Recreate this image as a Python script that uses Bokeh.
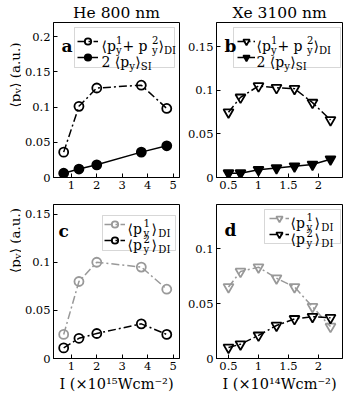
import math
from bokeh.plotting import figure
from bokeh.models import Range1d, FixedTicker, Label, Legend, LegendItem, BoxAnnotation
from bokeh.layouts import column, row
from bokeh.embed import file_html
from bokeh.resources import INLINE

# ---------------- data ----------------
he_x = [0.7, 1.3, 2.0, 3.75, 4.75]
he_di_sum = [0.036, 0.101, 0.127, 0.131, 0.098]
he_si2 = [0.006, 0.012, 0.018, 0.036, 0.045]
he_p1 = [0.025, 0.080, 0.100, 0.095, 0.072]
he_p2 = [0.011, 0.021, 0.026, 0.036, 0.025]

xe_x = [0.5, 0.7, 1.0, 1.3, 1.6, 1.9, 2.2]
xe_di_sum = [0.075, 0.092, 0.105, 0.103, 0.102, 0.086, 0.066]
xe_si2 = [0.005, 0.005, 0.009, 0.011, 0.013, 0.015, 0.021]
xe_p1 = [0.065, 0.079, 0.083, 0.073, 0.065, 0.047, 0.029]
xe_p2 = [0.010, 0.013, 0.021, 0.030, 0.036, 0.038, 0.037]

he_xticks = [1, 2, 3, 4, 5]
he_xtick_labels = ["1", "2", "3", "4", "5"]
xe_xticks = [0.5, 1, 1.5, 2]
xe_xtick_labels = ["0.5", "1", "1.5", "2"]
a_yticks = [0, 0.05, 0.1, 0.15, 0.2]
a_ytick_labels = ["0", "0.05", "0.1", "0.15", "0.2"]
b_yticks = [0, 0.05, 0.1, 0.15]
b_ytick_labels = ["0", "0.05", "0.1", "0.15"]
c_yticks = [0, 0.05, 0.1, 0.15]
c_ytick_labels = ["0", "0.05", "0.1", "0.15"]
d_yticks = [0, 0.05, 0.1]
d_ytick_labels = ["0", "0.05", "0.1"]

titles = ["He 800 nm", "Xe 3100 nm"]
letters = ["a", "b", "c", "d"]
xlabel_he = "I (\u00d710\u00b9\u2075Wcm\u207b\u00b2)"
xlabel_xe = "I (\u00d710\u00b9\u2074Wcm\u207b\u00b2)"

SERIF = "DejaVu Serif"
GRAY = "#999999"
DASHDOT = "8 3 2 3"

CW = {'⟨': 0.39, '⟩': 0.39, 'p': 0.644, 'y': 0.592, '1': 0.636, '2': 0.636, '+': 0.838,
      ' ': 0.318, 'D': 0.83, 'I': 0.47, 'S': 0.685, '(': 0.39, ')': 0.39, 'a': 0.596,
      'u': 0.644, '.': 0.318}
SMALL = 0.72


def tw(s, size):
    return sum(CW.get(c, 0.6) for c in s) * size


def put(p, x, y, text, size, angle=0.0, bold=False):
    p.add_layout(Label(x=x, y=y, x_units="screen", y_units="screen", text=text, angle=angle,
                       text_font=SERIF, text_font_size=f"{size:.1f}px", text_color="black",
                       text_font_style="bold" if bold else "normal",
                       text_align="left", text_baseline="alphabetic"))


def math_width(pieces, size, gap=0.0):
    small = size * SMALL
    w = 0.0
    for kind, t in pieces:
        if kind == "n":
            w += tw(t, size)
        elif kind in ("sub", "sup"):
            w += tw(t, small)
        else:
            w += max(tw(t[0], small), tw(t[1], small))
        w += gap
    return w


def math_text(p, x, y, pieces, size, angle=0.0, gap=0.0, sub=0.28):
    small = size * SMALL
    pos = 0.0
    ca, sa = math.cos(angle), math.sin(angle)

    def at(t, sz, dy):
        put(p, x + pos * ca - dy * sa, y + pos * sa + dy * ca, t, sz, angle)

    for kind, t in pieces:
        if kind == "n":
            at(t, size, 0); pos += tw(t, size)
        elif kind == "sub":
            at(t, small, -sub * size); pos += tw(t, small)
        elif kind == "sup":
            at(t, small, 0.42 * size); pos += tw(t, small)
        else:
            at(t[0], small, 0.42 * size); at(t[1], small, -0.3 * size)
            pos += max(tw(t[0], small), tw(t[1], small))
        pos += gap


def make_panel(fw, fh, bl, br, bt, bb, xr, yr, xt, xtl, yt, ytl, title=None):
    p = figure(frame_width=fw, frame_height=fh, x_range=Range1d(*xr), y_range=Range1d(*yr),
               output_backend="svg", toolbar_location=None, title=title,
               min_border_left=bl, min_border_right=br, min_border_top=bt, min_border_bottom=bb)
    p.grid.visible = False
    p.outline_line_color = "black"
    p.outline_line_width = 1
    p.background_fill_color = "white"
    p.border_fill_color = "white"
    if title is not None:
        p.title.text_font = SERIF
        p.title.text_font_size = "15.5px"
        p.title.text_font_style = "normal"
        p.title.text_color = "black"
        p.title.align = "center"
        p.title.standoff = 2
        p.title.offset = 0
    for ax, ticks, labels in ((p.xaxis[0], xt, xtl), (p.yaxis[0], yt, ytl)):
        ax.ticker = FixedTicker(ticks=ticks, minor_ticks=[])
        ax.major_label_overrides = {t: l for t, l in zip(ticks, labels)}
        ax.major_tick_in = 4
        ax.major_tick_out = 0
        ax.minor_tick_in = 0
        ax.minor_tick_out = 0
        ax.major_label_text_font = SERIF
        ax.major_label_text_font_size = "11.5px"
        ax.major_label_text_color = "black"
        ax.major_label_standoff = 3
        ax.axis_line_color = "black"
        ax.major_tick_line_color = "black"
    p._fw, p._fh = fw, fh
    return p


def label_strip(w, h, yc, size, base):
    s = figure(width=w, height=h, output_backend="svg", toolbar_location=None,
               x_axis_location=None, y_axis_location=None, min_border=0,
               min_border_left=0, min_border_right=0, min_border_top=0, min_border_bottom=0)
    s.outline_line_color = None
    s.grid.visible = False
    s.background_fill_color = "white"
    s.border_fill_color = "white"
    wl = math_width(YLABEL, size)
    math_text(s, base, yc - wl / 2, YLABEL, size, angle=math.pi / 2, sub=0.2)
    return s


def style_xlabel(p, text):
    ax = p.below[0]
    ax.axis_label = text
    ax.axis_label_text_font = SERIF
    ax.axis_label_text_font_size = "14.5px"
    ax.axis_label_text_font_style = "normal"
    ax.axis_label_text_color = "black"
    ax.axis_label_standoff = 3


def series(p, x, y, color, dash, marker, size, filled):
    r1 = p.line(x, y, line_color=color, line_width=1.5, line_dash=dash)
    r2 = p.scatter(x, y, marker=marker, size=size, line_color=color, line_width=1.8,
                   fill_color=color if filled else None)
    return [r1, r2]


def legend(p, items, box, gx, gw, ih, top_off, entries, text_x, size, gap=0.0):
    L, R, T, B = box
    xr, yr = p.x_range, p.y_range
    fx = lambda v: xr.start + v / p._fw * (xr.end - xr.start)
    fy = lambda v: yr.start + v / p._fh * (yr.end - yr.start)
    p.add_layout(BoxAnnotation(left=fx(L), right=fx(R), top=fy(T), bottom=fy(B),
                               fill_color="white", fill_alpha=1.0, line_color="#7a7a7a",
                               line_width=1, level="underlay"))
    leg = Legend(items=[LegendItem(label=" ", renderers=rs) for rs in items],
                 location=(L + gx, T - top_off - 2 * ih), orientation="vertical",
                 glyph_width=gw, glyph_height=ih, label_width=1, label_height=ih,
                 label_standoff=0, padding=0, spacing=0, margin=0, border_line_color=None,
                 background_fill_alpha=0.0, label_text_font_size="5px")
    p.add_layout(leg)
    for i, pieces in enumerate(entries):
        yc = T - top_off - (i + 0.5) * ih
        math_text(p, L + text_x, yc - 0.33 * size, pieces, size, gap=gap)


ENTRY_SUM = [("n", "⟨p"), ("ss", ("1", "y")), ("n", " + p"), ("ss", ("2", "y")), ("n", "⟩"), ("sub", "DI")]
ENTRY_SI = [("n", "2 ⟨p"), ("sub", "y"), ("n", "⟩"), ("sub", "SI")]
ENTRY_P1 = [("n", "⟨p"), ("ss", ("1", "y")), ("n", "⟩"), ("sub", "DI")]
ENTRY_P2 = [("n", "⟨p"), ("ss", ("2", "y")), ("n", "⟩"), ("sub", "DI")]
YLABEL = [("n", "⟨p"), ("sub", "y"), ("n", "⟩ (a.u.)")]

FH1, FH2 = 155, 154
TOP1, BOT1, TOP2, BOT2 = 21, 24, 3, 41
STRIP = 21

# ---------------- panel a ----------------
pa = make_panel(126, FH1, 29, 5, TOP1, BOT1, (0.3, 5.25), (0, 0.22), he_xticks, he_xtick_labels,
                a_yticks, a_ytick_labels, title=titles[0])
ra1 = series(pa, he_x, he_di_sum, "black", DASHDOT, "circle", 9, False)
ra2 = series(pa, he_x, he_si2, "black", "solid", "circle", 9, True)
legend(pa, [ra1, ra2], (21, 121, FH1 - 5, FH1 - 45), 3, 21, 16, 6,
       [ENTRY_SUM, ENTRY_SI], 27, 14)
put(pa, 8, FH1 - 23, letters[0], 17, bold=True)

# ---------------- panel b ----------------
pb = make_panel(126, FH1, 29, 3, TOP1, BOT1, (0.3, 2.4), (0, 0.178), xe_xticks, xe_xtick_labels,
                b_yticks, b_ytick_labels, title=titles[1])
rb1 = series(pb, xe_x, xe_di_sum, "black", DASHDOT, "inverted_triangle", 10, False)
rb2 = series(pb, xe_x, xe_si2, "black", "solid", "inverted_triangle", 10, True)
legend(pb, [rb1, rb2], (17, 124, FH1 - 5, FH1 - 45), 4, 18, 16, 6,
       [ENTRY_SUM, ENTRY_SI], 23, 14)
put(pb, 8, FH1 - 23, letters[1], 17, bold=True)

# ---------------- panel c ----------------
pc = make_panel(126, FH2, 29, 5, TOP2, BOT2, (0.3, 5.25), (0, 0.16), he_xticks, he_xtick_labels,
                c_yticks, c_ytick_labels)
rc1 = series(pc, he_x, he_p1, GRAY, DASHDOT, "circle", 9, False)
rc2 = series(pc, he_x, he_p2, "black", DASHDOT, "circle", 9, False)
legend(pc, [rc1, rc2], (49, 122, FH2 - 11, FH2 - 46), 2, 21, 16, 1,
       [ENTRY_P1, ENTRY_P2], 25, 14, gap=1.5)
put(pc, 5, FH2 - 26, letters[2], 17, bold=True)
style_xlabel(pc, xlabel_he)

# ---------------- panel d ----------------
pd_ = make_panel(126, FH2, 29, 3, TOP2, BOT2, (0.3, 2.4), (0, 0.14), xe_xticks, xe_xtick_labels,
                 d_yticks, d_ytick_labels)
rd1 = series(pd_, xe_x, xe_p1, GRAY, DASHDOT, "inverted_triangle", 10, False)
rd2 = series(pd_, xe_x, xe_p2, "black", DASHDOT, "inverted_triangle", 10, False)
legend(pd_, [rd1, rd2], (48, 124, FH2 - 5, FH2 - 39), 5, 20, 16, 1,
       [ENTRY_P1, ENTRY_P2], 26, 14, gap=1.5)
put(pd_, 8, FH2 - 25, letters[3], 17, bold=True)
style_xlabel(pd_, xlabel_xe)

H1 = TOP1 + FH1 + BOT1
H2 = TOP2 + FH2 + BOT2
yl_a = label_strip(STRIP, H1, H1 - (TOP1 + FH1 / 2), 13.5, 14)
yl_c = label_strip(STRIP, H2, H2 - (TOP2 + FH2 / 2), 13.5, 14)

layout = column(row(yl_a, pa, pb), row(yl_c, pc, pd_))
open("out.html", "w").write(file_html(layout, INLINE))
